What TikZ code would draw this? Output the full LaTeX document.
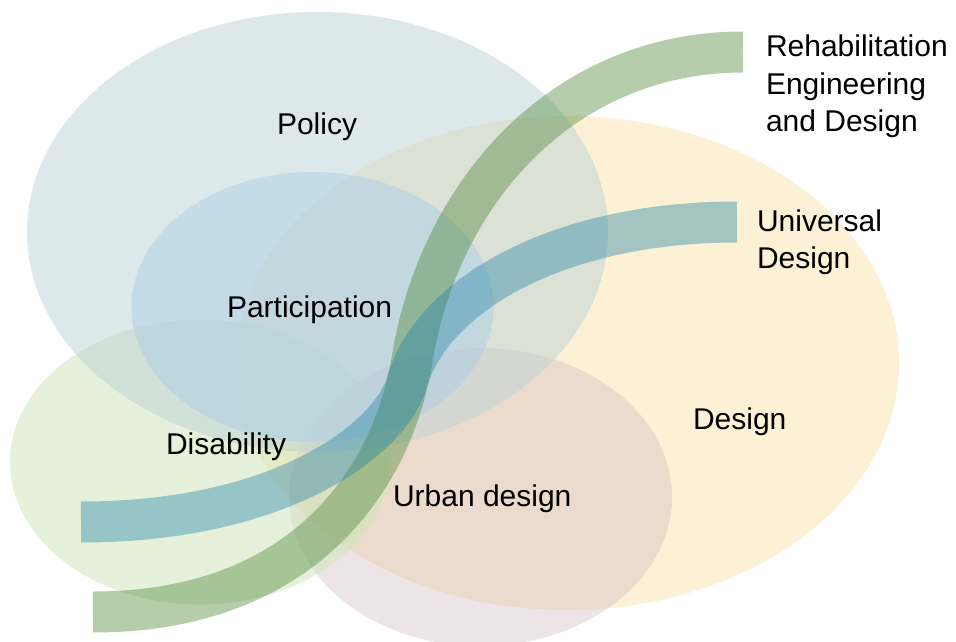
\documentclass[tikz,border=0pt]{standalone}
\usepackage{fontspec}
\setmainfont{Liberation Sans}
\usetikzlibrary{shapes.geometric}
\definecolor{designc}{RGB}{251,229,173}
\definecolor{urbanc}{RGB}{206,178,189}
\definecolor{disabc}{RGB}{207,229,185}
\definecolor{policyc}{RGB}{189,211,215}
\definecolor{partc}{RGB}{172,207,231}
\definecolor{rehabc}{RGB}{70,132,47}
\definecolor{univc}{RGB}{33,130,167}
\begin{document}
\begin{tikzpicture}[x=1pt,y=-1pt,
  blob/.style={shape=ellipse, inner sep=0pt, outer sep=0pt, draw=none},
  lbl/.style={anchor=base west, inner sep=0pt, outer sep=0pt, text=black, font=\fontsize{30}{37}\selectfont},
  band/.style={line width=41pt, draw opacity=0.4, line cap=butt}
]
\fill[white] (0,0) rectangle (956,642);
\useasboundingbox (0,0) rectangle (956,642);

% circles of the diagram
\node[blob, fill=designc, fill opacity=0.5, minimum width=664pt, minimum height=494pt] (design) at (567,363) {};
\node[blob, fill=urbanc, fill opacity=0.35, minimum width=383pt, minimum height=298pt] (urban) at (480.5,497) {};
\node[blob, fill=disabc, fill opacity=0.5, minimum width=380pt, minimum height=285pt] (disab) at (200,462) {};
\node[blob, fill=policyc, fill opacity=0.5, minimum width=581pt, minimum height=440pt] (policy) at (317.5,232) {};
\node[blob, fill=partc, fill opacity=0.5, minimum width=362pt, minimum height=270pt] (part) at (312.5,307) {};

% bands
\coordinate (rehabS) at (93,612);
\coordinate (rehabM) at (412,360);
\coordinate (rehabE) at (743,52);
\coordinate (univS) at (81,522);
\coordinate (univM) at (407,382);
\coordinate (univE) at (737,222);
\draw[band, rehabc] (rehabS) .. controls (312,612) and (394.6,468.6) .. (rehabM)
  .. controls (438.9,192.2) and (563,52) .. (rehabE);
\draw[band, univc] (univS) .. controls (281,522) and (390.2,439.6) .. (univM)
  .. controls (432.2,295.6) and (557,222) .. (univE);

% labels
\node[lbl] (tpolicy) at (277,134) {Policy};
\node[lbl] (tpart) at (227,317) {Participation};
\node[lbl] (tdisab) at (166,454) {Disability};
\node[lbl] (turban) at (393,506) {Urban design};
\node[lbl] (tdesign) at (693,429) {Design};
\node[lbl] (trehab1) at (766,57) {Rehabilitation};
\node[lbl] (trehab2) at (766,94) {Engineering};
\node[lbl] (trehab3) at (766,131) {and Design};
\node[lbl] (tuniv1) at (757,231) {Universal};
\node[lbl] (tuniv2) at (757,268) {Design};
\end{tikzpicture}
\end{document}
